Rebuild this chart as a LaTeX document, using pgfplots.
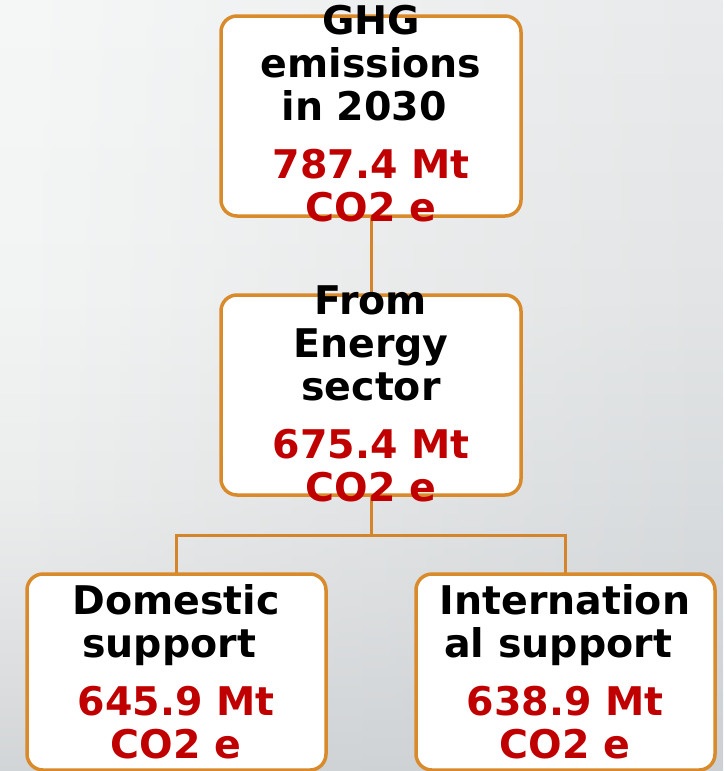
\documentclass[border=0pt]{standalone}
\usepackage{pgfplots}
\pgfplotsset{compat=1.18}
\usetikzlibrary{fadings}
\usepackage{fontspec}
\setmainfont{DejaVu Sans}
\definecolor{bord}{HTML}{D98A2B}
\definecolor{conn}{HTML}{D4852C}
\definecolor{redt}{HTML}{C00000}
\pgfdeclareverticalshading{bgleft}{100bp}{%
  color(0bp)=(rgb,255:red,211;green,214;blue,216);
  color(25bp)=(rgb,255:red,211;green,214;blue,216);
  color(36bp)=(rgb,255:red,228;green,229;blue,230);
  color(43bp)=(rgb,255:red,236;green,237;blue,237);
  color(56bp)=(rgb,255:red,243;green,244;blue,244);
  color(75bp)=(rgb,255:red,246;green,247;blue,247);
  color(100bp)=(rgb,255:red,246;green,247;blue,247)}
\pgfdeclareverticalshading{bgright}{100bp}{%
  color(0bp)=(rgb,255:red,204;green,208;blue,211);
  color(25bp)=(rgb,255:red,204;green,208;blue,211);
  color(43bp)=(rgb,255:red,217;green,220;blue,222);
  color(56bp)=(rgb,255:red,226;green,228;blue,229);
  color(75bp)=(rgb,255:red,232;green,234;blue,235);
  color(100bp)=(rgb,255:red,232;green,234;blue,235)}
\newcommand{\boxtext}{\fontsize{39.5}{43}\selectfont\bfseries}
\newcommand{\tsp}{\rule{0.348em}{0pt}}
\begin{document}
\begin{tikzpicture}
\useasboundingbox (0,0) rectangle (723pt,771pt);
\clip (0,0) rectangle (723pt,771pt);
\shade[shading=bgleft] (0,0) rectangle (723pt,771pt);
\shade[shading=bgright, path fading=west] (0,0) rectangle (723pt,771pt);
\begin{axis}[at={(0,0)}, anchor=south west, scale only axis, width=723pt, height=771pt,
  xmin=0, xmax=723, ymin=0, ymax=771, y dir=reverse, hide axis, clip=false]
% connectors
\addplot[conn, line width=3pt, mark=none] coordinates {(371,216) (371,295)};
\addplot[conn, line width=3pt, mark=none] coordinates {(371,495) (371,535)};
\addplot[conn, line width=3pt, mark=none] coordinates {(176,574) (176,535) (565,535) (565,574)};
% boxes
\addplot[bord, line width=3.5pt, fill=white, rounded corners=16pt, mark=none]
  coordinates {(371,16) (521,16) (521,216) (221,216) (221,16) (371,16)};
\addplot[bord, line width=3.5pt, fill=white, rounded corners=16pt, mark=none]
  coordinates {(371,295) (521,295) (521,495) (221,495) (221,295) (371,295)};
\addplot[bord, line width=3.5pt, fill=white, rounded corners=16pt, mark=none]
  coordinates {(176,574) (326,574) (326,770) (27,770) (27,574) (176,574)};
\addplot[bord, line width=3.5pt, fill=white, rounded corners=16pt, mark=none]
  coordinates {(565,574) (715,574) (715,770) (416,770) (416,574) (565,574)};
% texts
\node[align=center, inner sep=0pt, font=\boxtext] at (axis cs:371,114)
  {GHG\\emissions\\in 2030\tsp\\[15pt]\textcolor{redt}{787.4 Mt}\\\textcolor{redt}{CO2 e}};
\node[align=center, inner sep=0pt, font=\boxtext] at (axis cs:371,394)
  {From\\Energy\\sector\\[15pt]\textcolor{redt}{675.4 Mt}\\\textcolor{redt}{CO2 e}};
\node[align=center, inner sep=0pt, font=\boxtext] at (axis cs:176,672)
  {Domestic\\support\tsp\\[15pt]\textcolor{redt}{645.9 Mt}\\\textcolor{redt}{CO2 e}};
\node[align=center, inner sep=0pt, font=\boxtext] at (axis cs:565,672)
  {Internation\\al support\tsp\\[15pt]\textcolor{redt}{638.9 Mt}\\\textcolor{redt}{CO2 e}};
\end{axis}
\end{tikzpicture}
\end{document}
